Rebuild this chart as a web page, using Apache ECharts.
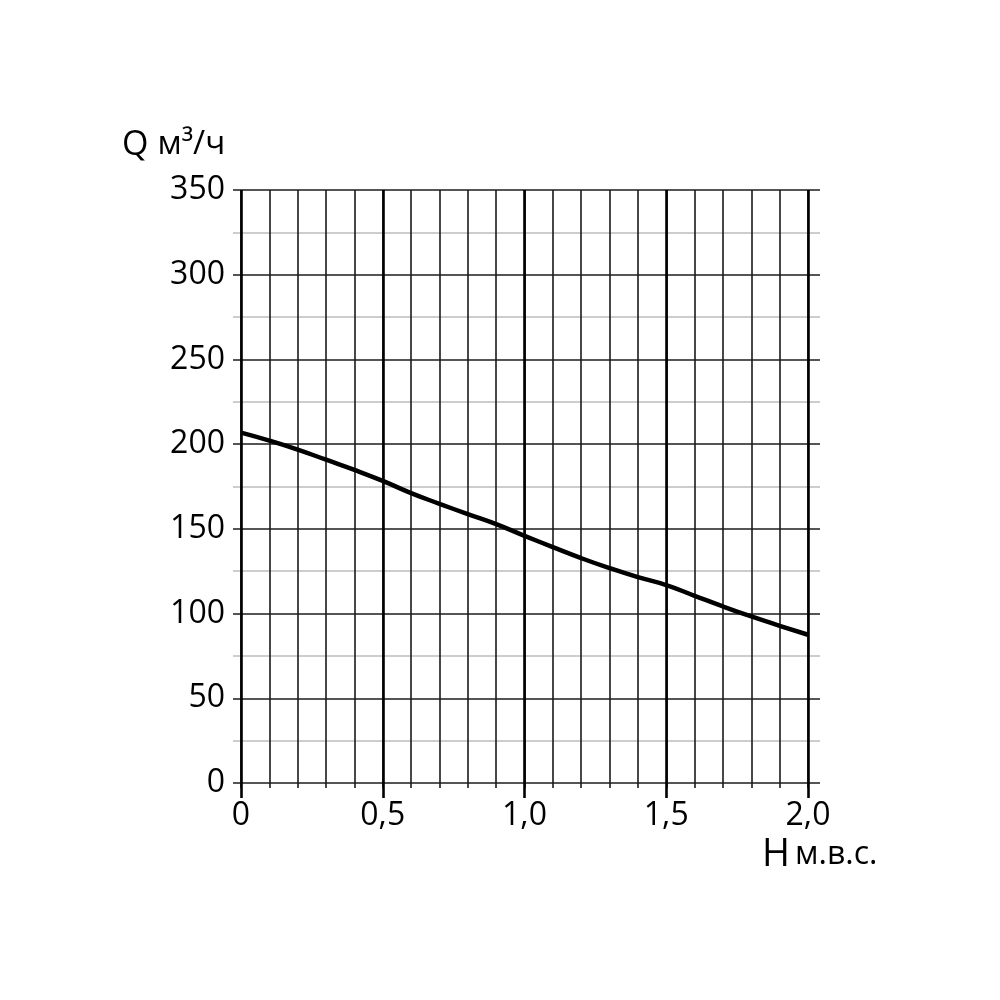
<!DOCTYPE html>
<html>
<head>
<meta charset="utf-8">
<script src="https://cdn.jsdelivr.net/npm/echarts@6/dist/echarts.min.js"></script>
<style>
html,body{margin:0;padding:0;background:#fff;}
#chart{width:1000px;height:1000px;}
</style>
</head>
<body>
<div id="chart"></div>
<script>
// Data
var headValues = [0, 0.1, 0.2, 0.3, 0.4, 0.5, 0.6, 0.7, 0.8, 0.9, 1.0, 1.1, 1.2, 1.3, 1.4, 1.5, 1.6, 1.7, 1.8, 1.9, 2.0];
var flowValues = [206.8, 202.1, 196.8, 190.8, 184.8, 178.3, 171.1, 164.8, 158.7, 152.8, 145.9, 139.2, 132.7, 126.8, 121.5, 116.8, 110.5, 104.2, 98.3, 92.8, 87.5];
var xTitle = 'H';
var xUnit = 'м.в.с.';
var yTitle = 'Q';
var yUnit = 'м³/ч';

var FONT = '"Open Sans", sans-serif';

var chart = echarts.init(document.getElementById('chart'), null, {renderer: 'canvas'});

var points = headValues.map(function (h, i) { return [h, flowValues[i]]; });

var option = {
  backgroundColor: '#ffffff',
  animation: false,
  grid: [
    {left: 241, right: 192, top: 190, bottom: 217},
    {left: 233, right: 180, top: 190, bottom: 217}
  ],
  xAxis: [
    {
      gridIndex: 0, type: 'value', min: 0, max: 2, interval: 0.1, position: 'bottom',
      axisLine: {show: false},
      axisTick: {show: true, length: 5, lineStyle: {color: '#1a1a1a', width: 1.6}},
      axisLabel: {show: false},
      splitLine: {show: true, lineStyle: {color: '#1a1a1a', width: 1.6}}
    },
    {
      gridIndex: 0, type: 'value', min: 0, max: 2, interval: 0.5, position: 'bottom',
      axisLine: {show: false},
      axisTick: {show: true, length: 15, lineStyle: {color: '#000', width: 2.6}},
      axisLabel: {
        show: true, margin: 17, color: '#000', fontFamily: FONT, fontSize: 32,
        formatter: function (v) { return v === 0 ? '0' : v.toFixed(1).replace('.', ','); }
      },
      splitLine: {show: true, lineStyle: {color: '#000', width: 2.6}}
    },
    {
      gridIndex: 1, type: 'value', min: 0, max: 1, show: false
    }
  ],
  yAxis: [
    {gridIndex: 0, type: 'value', min: 0, max: 350, show: false},
    {
      gridIndex: 1, type: 'value', min: 0, max: 350, interval: 50,
      axisLine: {show: false},
      axisTick: {show: false},
      axisLabel: {show: true, margin: 8, color: '#000', fontFamily: FONT, fontSize: 32},
      splitLine: {show: true, lineStyle: {color: '#555', width: 2}},
      minorTick: {show: false, splitNumber: 2},
      minorSplitLine: {show: true, lineStyle: {color: '#bdbdbd', width: 1.5}}
    }
  ],
  graphic: [
    {
      type: 'text', left: 122, top: 128, z: 10,
      style: {
        text: '{a|' + yTitle + '}{b|' + yUnit + '}',
        rich: {
          a: {fontFamily: FONT, fontSize: 34, fill: '#000', padding: [0, 9, 0, 0]},
          b: {fontFamily: FONT, fontSize: 33, fill: '#000'}
        }
      }
    },
    {
      type: 'text', left: 762, top: 836, z: 10,
      style: {
        text: '{a|' + xTitle + '}{b|' + xUnit + '}',
        rich: {
          a: {fontFamily: FONT, fontSize: 38, fill: '#000', padding: [0, 5, 0, 0]},
          b: {fontFamily: FONT, fontSize: 32, fill: '#000'}
        }
      }
    }
  ],
  series: [
    {
      type: 'line', xAxisIndex: 1, yAxisIndex: 0, data: points,
      smooth: true, showSymbol: false, z: 5,
      lineStyle: {color: '#000', width: 4.5}
    }
  ]
};
chart.setOption(option);
</script>
</body>
</html>
